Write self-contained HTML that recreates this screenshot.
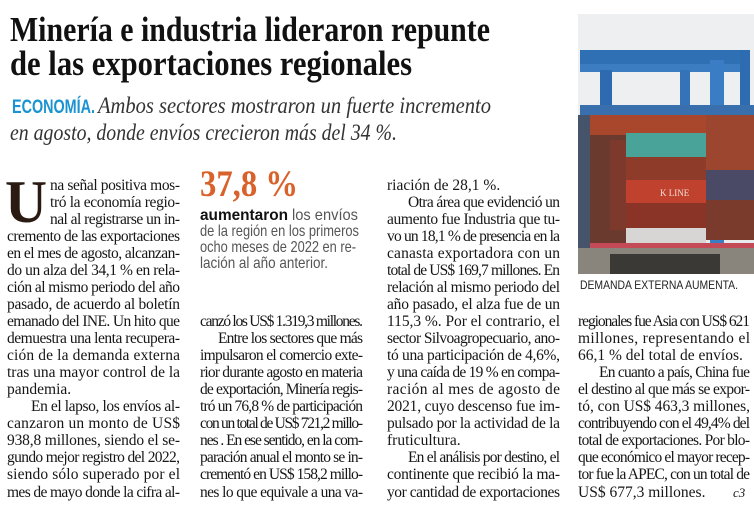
<!DOCTYPE html>
<html><head><meta charset="utf-8"><style>
html,body{margin:0;padding:0;background:#fff;width:754px;height:521px;overflow:hidden}
svg{display:block}
.b{font-family:"Liberation Serif",serif;font-size:15.5px;fill:#161616}
.s{font-family:"Liberation Sans",sans-serif}
</style></head><body>
<svg width="754" height="521" viewBox="0 0 754 521" xmlns="http://www.w3.org/2000/svg">
<rect width="754" height="521" fill="#fff"/>
<!-- Title -->
<text x="10" y="41" font-family="Liberation Serif,serif" font-weight="bold" font-size="35" fill="#111" textLength="480" lengthAdjust="spacingAndGlyphs">Minería e industria lideraron repunte</text>
<text x="10" y="75" font-family="Liberation Serif,serif" font-weight="bold" font-size="35" fill="#111" textLength="402" lengthAdjust="spacingAndGlyphs">de las exportaciones regionales</text>
<!-- Subtitle -->
<text x="12" y="113" class="s" font-weight="bold" font-size="19" fill="#1a93d2" textLength="83" lengthAdjust="spacingAndGlyphs">ECONOMÍA.</text>
<text x="98" y="113" font-family="Liberation Serif,serif" font-style="italic" font-size="23" fill="#333" textLength="393" lengthAdjust="spacingAndGlyphs">Ambos sectores mostraron un fuerte incremento</text>
<text x="10" y="140" font-family="Liberation Serif,serif" font-style="italic" font-size="23" fill="#333" textLength="387" lengthAdjust="spacingAndGlyphs">en agosto, donde envíos crecieron más del 34 %.</text>

<!-- Drop cap -->
<text x="5" y="222" font-family="Liberation Serif,serif" font-weight="bold" font-size="60" fill="#2a1a12" textLength="42" lengthAdjust="spacingAndGlyphs">U</text>

<!-- Column 1 -->
<g class="b">
<text x="50" y="190" textLength="130" lengthAdjust="spacing">na señal positiva mos-</text>
<text x="50" y="207" textLength="130" lengthAdjust="spacing">tró la economía regio-</text>
<text x="50" y="224" textLength="130" lengthAdjust="spacing">nal al registrarse un in-</text>
<text x="7" y="241" textLength="173" lengthAdjust="spacing">cremento de las exportaciones</text>
<text x="7" y="258" textLength="173" lengthAdjust="spacing">en el mes de agosto, alcanzan-</text>
<text x="7" y="275" textLength="173" lengthAdjust="spacing">do un alza del 34,1 % en rela-</text>
<text x="7" y="292" textLength="173" lengthAdjust="spacing">ción al mismo periodo del año</text>
<text x="7" y="309" textLength="173" lengthAdjust="spacing">pasado, de acuerdo al boletín</text>
<text x="7" y="326" textLength="173" lengthAdjust="spacing">emanado del INE. Un hito que</text>
<text x="7" y="343" textLength="173" lengthAdjust="spacing">demuestra una lenta recupera-</text>
<text x="7" y="360" textLength="173" lengthAdjust="spacing">ción de la demanda externa</text>
<text x="7" y="377" textLength="173" lengthAdjust="spacing">tras una mayor control de la</text>
<text x="7" y="394">pandemia.</text>
<text x="31" y="411" textLength="149" lengthAdjust="spacing">En el lapso, los envíos al-</text>
<text x="7" y="428" textLength="173" lengthAdjust="spacing">canzaron un monto de US$</text>
<text x="7" y="445" textLength="173" lengthAdjust="spacing">938,8 millones, siendo el se-</text>
<text x="7" y="462" textLength="173" lengthAdjust="spacing">gundo mejor registro del 2022,</text>
<text x="7" y="479" textLength="173" lengthAdjust="spacing">siendo sólo superado por el</text>
<text x="7" y="497" textLength="173" lengthAdjust="spacing">mes de mayo donde la cifra al-</text>
</g>

<!-- Column 2 highlight -->
<text x="200" y="196" font-family="Liberation Serif,serif" font-weight="bold" font-size="37" fill="#d8622a" textLength="98" lengthAdjust="spacingAndGlyphs">37,8 %</text>
<g class="s" font-size="16" fill="#555">
<text x="200" y="220" font-weight="bold" fill="#111" textLength="88" lengthAdjust="spacingAndGlyphs">aumentaron</text>
<text x="292" y="220" textLength="66" lengthAdjust="spacingAndGlyphs">los envíos</text>
<text x="200" y="236" textLength="159" lengthAdjust="spacingAndGlyphs">de la región en los primeros</text>
<text x="200" y="252" textLength="156" lengthAdjust="spacingAndGlyphs">ocho meses de 2022 en re-</text>
<text x="200" y="268" textLength="128" lengthAdjust="spacingAndGlyphs">lación al año anterior.</text>
</g>

<!-- Column 2 -->
<g class="b">
<text x="200" y="326" textLength="163" lengthAdjust="spacing">canzó los US$ 1.319,3 millones.</text>
<text x="218" y="343" textLength="145" lengthAdjust="spacing">Entre los sectores que más</text>
<text x="200" y="360" textLength="163" lengthAdjust="spacing">impulsaron el comercio exte-</text>
<text x="200" y="377" textLength="163" lengthAdjust="spacing">rior durante agosto en materia</text>
<text x="200" y="394" textLength="163" lengthAdjust="spacing">de exportación, Minería regis-</text>
<text x="200" y="411" textLength="163" lengthAdjust="spacing">tró un 76,8 % de participación</text>
<text x="200" y="428" textLength="163" lengthAdjust="spacing">con un total de US$ 721,2 millo-</text>
<text x="200" y="445" textLength="163" lengthAdjust="spacing">nes . En ese sentido, en la com-</text>
<text x="200" y="462" textLength="163" lengthAdjust="spacing">paración anual el monto se in-</text>
<text x="200" y="479" textLength="163" lengthAdjust="spacing">crementó en US$ 158,2 millo-</text>
<text x="200" y="497" textLength="163" lengthAdjust="spacing">nes lo que equivale a una va-</text>
</g>

<!-- Column 3 -->
<g class="b">
<text x="387" y="190">riación de 28,1 %.</text>
<text x="408" y="207" textLength="152" lengthAdjust="spacing">Otra área que evidenció un</text>
<text x="387" y="224" textLength="173" lengthAdjust="spacing">aumento fue Industria que tu-</text>
<text x="387" y="241" textLength="173" lengthAdjust="spacing">vo un 18,1 % de presencia en la</text>
<text x="387" y="258" textLength="173" lengthAdjust="spacing">canasta exportadora con un</text>
<text x="387" y="275" textLength="173" lengthAdjust="spacing">total de US$ 169,7 millones. En</text>
<text x="387" y="292" textLength="173" lengthAdjust="spacing">relación al mismo periodo del</text>
<text x="387" y="309" textLength="173" lengthAdjust="spacing">año pasado, el  alza fue de un</text>
<text x="387" y="326" textLength="173" lengthAdjust="spacing">115,3 %. Por el contrario,  el</text>
<text x="387" y="343" textLength="173" lengthAdjust="spacing">sector Silvoagropecuario, ano-</text>
<text x="387" y="360" textLength="173" lengthAdjust="spacing">tó una participación de 4,6%,</text>
<text x="387" y="377" textLength="173" lengthAdjust="spacing">y una caída de 19 % en compa-</text>
<text x="387" y="394" textLength="173" lengthAdjust="spacing">ración al mes de agosto de</text>
<text x="387" y="411" textLength="173" lengthAdjust="spacing">2021, cuyo descenso fue im-</text>
<text x="387" y="428" textLength="173" lengthAdjust="spacing">pulsado por la actividad de la</text>
<text x="387" y="445">fruticultura.</text>
<text x="408" y="462" textLength="152" lengthAdjust="spacing">En el análisis por destino, el</text>
<text x="387" y="479" textLength="173" lengthAdjust="spacing">continente que recibió la ma-</text>
<text x="387" y="497" textLength="173" lengthAdjust="spacing">yor cantidad de exportaciones</text>
</g>

<!-- Column 4 -->
<g class="b">
<text x="578" y="326" textLength="172" lengthAdjust="spacing">regionales fue Asia con US$ 621</text>
<text x="578" y="343" textLength="172" lengthAdjust="spacing">millones, representando el</text>
<text x="578" y="360">66,1 % del total de envíos.</text>
<text x="599" y="377" textLength="151" lengthAdjust="spacing">En cuanto a país, China fue</text>
<text x="578" y="394" textLength="172" lengthAdjust="spacing">el destino al que más se expor-</text>
<text x="578" y="411" textLength="172" lengthAdjust="spacing">tó, con US$ 463,3 millones,</text>
<text x="578" y="428" textLength="172" lengthAdjust="spacing">contribuyendo con el 49,4% del</text>
<text x="578" y="445" textLength="172" lengthAdjust="spacing">total de exportaciones. Por blo-</text>
<text x="578" y="462" textLength="172" lengthAdjust="spacing">que económico el mayor recep-</text>
<text x="578" y="479" textLength="172" lengthAdjust="spacing">tor fue la APEC, con un total de</text>
<text x="578" y="497">US$ 677,3 millones.</text>
<text x="733" y="497" font-style="italic" font-size="13">c3</text>
</g>

<!-- Photo -->
<g>
<rect x="578" y="14" width="176" height="260" fill="#e9eaec"/>
<rect x="578" y="14" width="176" height="100" fill="#eeeff1"/>
<rect x="580" y="50" width="170" height="14" fill="#2f6fb4"/>
<rect x="580" y="64" width="170" height="8" fill="#3c7cc0"/>
<rect x="600" y="70" width="12" height="110" fill="#2e6ab0"/>
<rect x="680" y="70" width="10" height="50" fill="#3573b8"/>
<rect x="710" y="60" width="14" height="200" fill="#3a7dc4"/>
<rect x="740" y="50" width="10" height="150" fill="#2e6cb2"/>
<rect x="580" y="105" width="174" height="10" fill="#3a6fae"/>
<rect x="578" y="115" width="12" height="140" fill="#45546a"/>
<rect x="590" y="115" width="120" height="20" fill="#a8472c"/>
<rect x="590" y="135" width="36" height="120" fill="#6b3a2e"/>
<rect x="610" y="140" width="16" height="90" fill="#7d3a2c"/>
<rect x="626" y="133" width="80" height="24" fill="#4aa398"/>
<rect x="626" y="157" width="80" height="23" fill="#8e3b2a"/>
<rect x="626" y="180" width="80" height="23" fill="#c0412e"/>
<text x="660" y="196" font-family="Liberation Serif,serif" font-size="9" fill="#f1e0d8">K LINE</text>
<rect x="626" y="203" width="80" height="25" fill="#8a3427"/>
<rect x="706" y="115" width="48" height="55" fill="#9c4630"/>
<rect x="706" y="170" width="48" height="30" fill="#4a4a66"/>
<rect x="706" y="200" width="48" height="40" fill="#7a3a2c"/>
<rect x="626" y="228" width="80" height="18" fill="#d8d6d4"/>
<rect x="590" y="243" width="164" height="5" fill="#c44a58"/>
<rect x="578" y="248" width="176" height="26" fill="#8a857c"/>
<rect x="610" y="254" width="110" height="20" fill="#3b3935"/>
</g>
<text x="580" y="289" class="s" font-size="11.5" fill="#222" textLength="158" lengthAdjust="spacingAndGlyphs">DEMANDA EXTERNA AUMENTA.</text>
</svg>
</body></html>
